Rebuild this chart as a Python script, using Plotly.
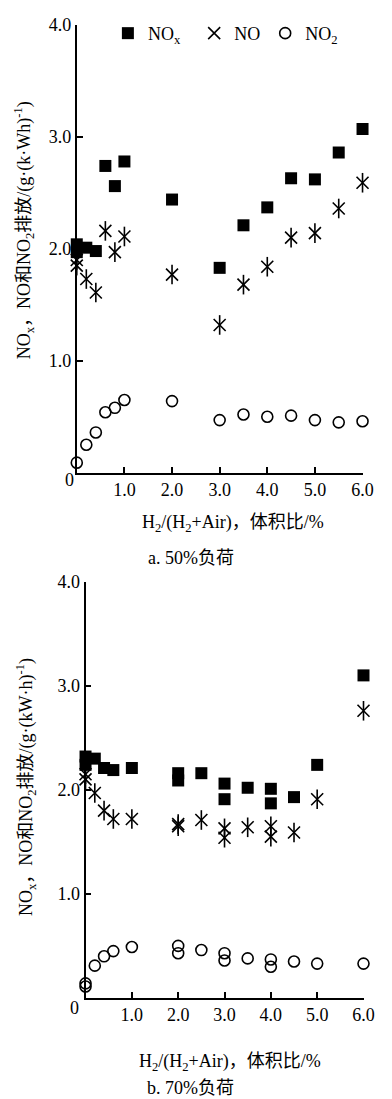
import plotly.graph_objects as go

W, H = 392, 1099

# ---------- Panel a: 50% load ----------
a_x_nox = [0, 0, 0.2, 0.4, 0.6, 0.8, 1.0, 2.0, 3.0, 3.5, 4.0, 4.5, 5.0, 5.5, 6.0]
a_nox = [2.04, 1.97, 2.01, 1.98, 2.74, 2.56, 2.78, 2.44, 1.83, 2.21, 2.37, 2.63, 2.62, 2.86, 3.07]
a_x_no = [0, 0, 0.2, 0.4, 0.6, 0.8, 1.0, 2.0, 3.0, 3.5, 4.0, 4.5, 5.0, 5.5, 6.0]
a_no = [1.90, 1.85, 1.73, 1.61, 2.16, 1.97, 2.11, 1.77, 1.32, 1.68, 1.84, 2.10, 2.14, 2.36, 2.59]
a_x_no2 = [0, 0.2, 0.4, 0.6, 0.8, 1.0, 2.0, 3.0, 3.5, 4.0, 4.5, 5.0, 5.5, 6.0]
a_no2 = [0.09, 0.25, 0.36, 0.54, 0.58, 0.65, 0.64, 0.47, 0.52, 0.50, 0.51, 0.47, 0.45, 0.46]

# ---------- Panel b: 70% load ----------
b_x = [0, 0, 0.2, 0.4, 0.6, 1.0, 2.0, 2.0, 2.5, 3.0, 3.0, 3.5, 4.0, 4.0, 4.5, 5.0, 6.0]
b_nox = [2.32, 2.24, 2.30, 2.21, 2.19, 2.21, 2.16, 2.09, 2.16, 2.06, 1.91, 2.02, 2.01, 1.87, 1.93, 2.24, 3.10]
b_no = [2.15, 2.10, 1.97, 1.80, 1.72, 1.72, 1.67, 1.65, 1.71, 1.63, 1.54, 1.64, 1.65, 1.55, 1.59, 1.91, 2.76]
b_no2 = [0.14, 0.11, 0.31, 0.40, 0.45, 0.49, 0.50, 0.43, 0.46, 0.43, 0.36, 0.38, 0.37, 0.30, 0.35, 0.33, 0.33]

x_tickvals = [1, 2, 3, 4, 5, 6]
x_ticktext = ["1.0", "2.0", "3.0", "4.0", "5.0", "6.0"]
y_tickvals = [1, 2, 3, 4]
y_ticktext = ["1.0", "2.0", "3.0", "4.0"]

FONT = "Liberation Serif, Times New Roman, Noto Sans CJK SC, serif"
FS = 18

fig = go.Figure()

def add_panel(xa, ya, x_nox, nox, x_no, no, x_no2, no2, legend):
    fig.add_trace(go.Scatter(x=x_nox, y=nox, mode="markers", name="NO<sub>x</sub>&nbsp;&nbsp;",
                             xaxis=xa, yaxis=ya, showlegend=legend, cliponaxis=False,
                             marker=dict(symbol="square", size=12, color="black")))
    fig.add_trace(go.Scatter(x=x_no, y=no, mode="markers", name="NO",
                             xaxis=xa, yaxis=ya, showlegend=legend, cliponaxis=False,
                             marker=dict(symbol="x-thin-open", size=12, color="black",
                                         line=dict(width=1.6, color="black"))))
    fig.add_trace(go.Scatter(x=x_no, y=no, mode="markers", name="NO",
                             xaxis=xa, yaxis=ya, showlegend=False, cliponaxis=False,
                             marker=dict(symbol="line-ns-open", size=14, color="black",
                                         line=dict(width=1.6, color="black"))))
    fig.add_trace(go.Scatter(x=x_no2, y=no2, mode="markers", name="NO<sub>2</sub>",
                             xaxis=xa, yaxis=ya, showlegend=legend, cliponaxis=False,
                             marker=dict(symbol="circle-open", size=11, color="black",
                                         line=dict(width=1.6, color="black"))))

add_panel("x", "y", a_x_nox, a_nox, a_x_no, a_no, a_x_no2, a_no2, True)
add_panel("x2", "y2", b_x, b_nox, b_x, b_no, b_x, b_no2, False)

def px_x(p):
    return p / W

def px_y(p):
    return 1 - p / H

axis_common = dict(showline=True, linecolor="black", linewidth=1.8, ticks="inside",
                   ticklen=6, tickwidth=1.6, tickcolor="black", showgrid=False,
                   zeroline=False, tickfont=dict(family=FONT, size=FS, color="black"))

fig.update_layout(
    width=W, height=H,
    margin=dict(l=0, r=0, t=0, b=0),
    paper_bgcolor="white", plot_bgcolor="white",
    font=dict(family=FONT, size=FS, color="black"),
    xaxis=dict(domain=[px_x(79), px_x(373)], range=[0, 6], anchor="y",
               tickvals=x_tickvals, ticktext=x_ticktext, **axis_common),
    yaxis=dict(domain=[px_y(467), px_y(15)], range=[0, 4], anchor="x",
               tickvals=y_tickvals, ticktext=y_ticktext, **axis_common),
    xaxis2=dict(domain=[px_x(88), px_x(374)], range=[0, 6], anchor="y2",
                tickvals=x_tickvals, ticktext=x_ticktext, **axis_common),
    yaxis2=dict(domain=[px_y(997), px_y(577)], range=[0, 4], anchor="x2",
                tickvals=y_tickvals, ticktext=y_ticktext, **axis_common),
    legend=dict(orientation="h", x=px_x(111), y=px_y(5), xanchor="left", yanchor="top",
                font=dict(family=FONT, size=FS, color="black"), bgcolor="rgba(0,0,0,0)",
                itemwidth=30, tracegroupgap=0),
)

ann = [
    # y titles
    dict(text="NO<sub>x</sub>，NO和NO<sub>2</sub>排放/(g·(k·Wh)<sup>-1</sup>)", x=px_x(25), y=px_y(222),
         textangle=-90),
    dict(text="NO<sub>x</sub>，NO和NO<sub>2</sub>排放/(g·(kW·h)<sup>-1</sup>)", x=px_x(27), y=px_y(784),
         textangle=-90),
    # x titles
    dict(text="H<sub>2</sub>/(H<sub>2</sub>+Air)，体积比/%", x=px_x(240), y=px_y(518)),
    dict(text="H<sub>2</sub>/(H<sub>2</sub>+Air)，体积比/%", x=px_x(237), y=px_y(1062)),
    # panel captions
    dict(text="a. 50%负荷", x=px_x(197), y=px_y(553)),
    dict(text="b. 70%负荷", x=px_x(196), y=px_y(1088)),
    # origin labels
    dict(text="0", x=px_x(72), y=px_y(474)),
    dict(text="0", x=px_x(77), y=px_y(1007)),
]
for a in ann:
    fig.add_annotation(xref="paper", yref="paper", showarrow=False,
                       xanchor="center", yanchor="middle",
                       font=dict(family=FONT, size=FS, color="black"), **a)

fig.write_html("out.html")
